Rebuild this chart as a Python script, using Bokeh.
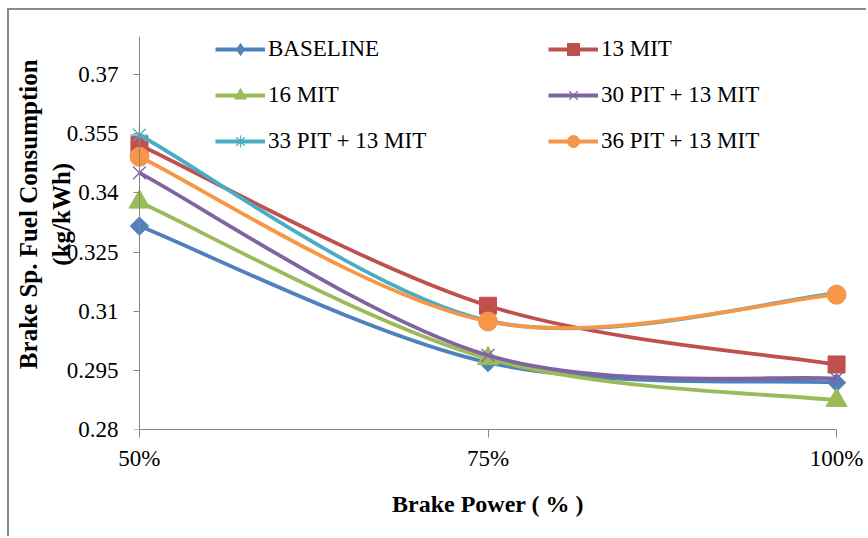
import math
from bokeh.plotting import figure
from bokeh.models import Range1d, FixedTicker, Legend, LegendItem, LinearAxis
from bokeh.embed import file_html
from bokeh.resources import INLINE

categories = ["50%", "75%", "100%"]
baseline = [0.3316, 0.2970, 0.2919]
mit13 = [0.3522, 0.3114, 0.2965]
mit16 = [0.3377, 0.2980, 0.2874]
pit30 = [0.3451, 0.2988, 0.2929]
pit33 = [0.3547, 0.3076, 0.3145]
pit36 = [0.3492, 0.3074, 0.3142]
y_ticks = [0.28, 0.295, 0.31, 0.325, 0.34, 0.355, 0.37]
y_tick_labels = ["0.28", "0.295", "0.31", "0.325", "0.34", "0.355", "0.37"]

# name, values, colour, marker, size, angle, legend marker, legend size
series = [
    ("BASELINE", baseline, "#4F81BD", "square", 13, math.pi / 4, "diamond", 21),
    ("13 MIT", mit13, "#C0504D", "square", 17, 0, "square", 17),
    ("16 MIT", mit16, "#9BBB59", "triangle", 21, 0, "triangle", 21),
    ("30 PIT + 13 MIT", pit30, "#8064A2", "x", 18, 0, "x", 18),
    ("33 PIT + 13 MIT", pit33, "#4BACC6", "asterisk", 18, 0, "asterisk", 18),
    ("36 PIT + 13 MIT", pit36, "#F79646", "circle", 19, 0, "circle", 19),
]

FONT = "Liberation Serif"
PAD = 0.04
AXIS_GRAY = "#868686"

p = figure(width=859, height=528, output_backend="svg", toolbar_location=None,
           x_range=Range1d(-PAD, 2 + PAD), y_range=Range1d(0.28, 0.3797),
           min_border_left=116, min_border_right=18, min_border_top=26, min_border_bottom=109,
           margin=(8, 0, 0, 7),
           styles={"border-left": "2px solid #8a8a8a", "border-top": "2px solid #8a8a8a"})
p.outline_line_color = None
p.xgrid.visible = False
p.ygrid.visible = False
p.background_fill_color = "white"
p.border_fill_color = "white"

xs = list(range(len(categories)))
renderers = {}
for name, vals, color, marker, size, ang, lmarker, lsize in series:
    n = len(vals)
    x0, y0, x1, y1, cx0, cy0, cx1, cy1 = [], [], [], [], [], [], [], []
    for i in range(n - 1):
        pa = (xs[i - 1], vals[i - 1]) if i > 0 else (xs[i], vals[i])
        pb = (xs[i], vals[i])
        pc = (xs[i + 1], vals[i + 1])
        pd = (xs[i + 2], vals[i + 2]) if i + 2 < n else (xs[i + 1], vals[i + 1])
        x0.append(pb[0]); y0.append(pb[1]); x1.append(pc[0]); y1.append(pc[1])
        cx0.append(pb[0] + (pc[0] - pa[0]) / 6); cy0.append(pb[1] + (pc[1] - pa[1]) / 6)
        cx1.append(pc[0] - (pd[0] - pb[0]) / 6); cy1.append(pc[1] - (pd[1] - pb[1]) / 6)
    p.bezier(x0=x0, y0=y0, x1=x1, y1=y1, cx0=cx0, cy0=cy0, cx1=cx1, cy1=cy1,
             line_color=color, line_width=3.8)
    lw = 1.3 if marker in ("x", "asterisk") else 1
    p.scatter(xs, vals, marker=marker, size=size, angle=ang,
              fill_color=color, line_color=color, line_width=lw)
    rl = p.line([xs[0]], [float("nan")], line_color=color, line_width=4)
    rm = p.scatter([xs[0]], [float("nan")], marker=lmarker, size=lsize,
                   fill_color=color, line_color=color, line_width=lw)
    renderers[name] = [rl, rm]

def make_legend(names, loc):
    lg = Legend(items=[LegendItem(label=nm, renderers=renderers[nm], index=0) for nm in names],
                location=loc, orientation="vertical")
    lg.border_line_color = None
    lg.background_fill_alpha = 0
    lg.padding = 0
    lg.margin = 0
    lg.glyph_width = 50
    lg.glyph_height = 30
    lg.spacing = 16
    lg.label_standoff = 3
    lg.label_text_font = FONT
    lg.label_text_font_size = "23px"
    lg.label_text_color = "black"
    return lg

p.add_layout(make_legend(["BASELINE", "16 MIT", "33 PIT + 13 MIT"], (90, 273)), "center")
p.add_layout(make_legend(["13 MIT", "30 PIT + 13 MIT", "36 PIT + 13 MIT"], (423, 273)), "center")

for ax in (p.xaxis[0], p.yaxis[0]):
    ax.axis_line_color = AXIS_GRAY
    ax.major_tick_line_color = AXIS_GRAY
    ax.minor_tick_line_color = None
    ax.major_tick_in = 0
    ax.major_label_text_font = FONT
    ax.major_label_text_font_size = "23px"
    ax.major_label_text_color = "black"
    ax.axis_label_text_font = FONT
    ax.axis_label_text_font_style = "bold"
    ax.axis_label_text_color = "black"

p.xaxis.ticker = FixedTicker(ticks=xs)
p.xaxis.major_label_overrides = {x: c for x, c in zip(xs, categories)}
p.xaxis.major_tick_out = 8
p.xaxis.major_label_standoff = 8
p.xaxis.axis_label = "Brake Power ( % )"
p.xaxis.axis_label_text_font_size = "24px"
p.xaxis.axis_label_standoff = 17
p.xaxis.bounds = (0, 2)

# label-only y axis at the frame edge
NB = "\u00a0" * 6
ylab = p.yaxis[0]
ylab.ticker = FixedTicker(ticks=y_ticks)
ylab.major_label_overrides = {t: l for t, l in zip(y_ticks, y_tick_labels)}
ylab.axis_line_color = None
ylab.major_tick_line_color = None
ylab.major_tick_out = 0
ylab.major_label_standoff = 7
ylab.axis_label = NB + "Brake Sp. Fuel Consumption\n" + NB + "(kg/kWh)"
ylab.axis_label_text_font_size = "25px"
ylab.axis_label_standoff = -11

# line + ticks y axis placed at the first category
yline = LinearAxis(fixed_location=0, ticker=FixedTicker(ticks=y_ticks),
                   axis_line_color=AXIS_GRAY, major_tick_line_color=AXIS_GRAY,
                   minor_tick_line_color=None, major_tick_in=0, major_tick_out=6,
                   major_label_text_alpha=0, major_label_text_font_size="1px",
                   major_label_standoff=0)
p.add_layout(yline, "left")

open("out.html", "w").write(file_html(p, INLINE))
